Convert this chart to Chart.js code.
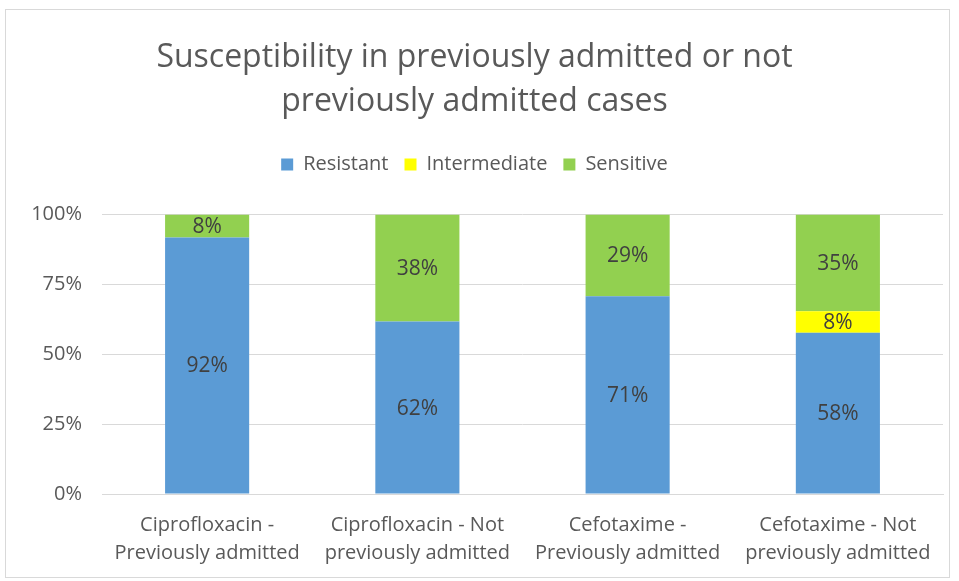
<!DOCTYPE html>
<html>
<head>
<meta charset="utf-8">
<script src="https://cdn.jsdelivr.net/npm/chart.js@4"></script>
<style>
  html, body { margin: 0; padding: 0; background: #fff; }
  #box { position: absolute; left: 5px; top: 9px; width: 943px; height: 567px; border: 1px solid #d9d9d9; }
</style>
</head>
<body>
<div id="box"><canvas id="chart" width="943" height="567"></canvas></div>
<script>
var categories = [
    ["Ciprofloxacin -", "Previously admitted"],
    ["Ciprofloxacin - Not", "previously admitted"],
    ["Cefotaxime -", "Previously admitted"],
    ["Cefotaxime - Not", "previously admitted"]
];
var resistant = [91.8, 61.7, 70.8, 57.7];
var intermediate = [0, 0, 0, 7.7];
var sensitive = [8.2, 38.3, 29.2, 34.6];
var yTicks = [0, 25, 50, 75, 100];

var textColor = '#595959';
var fontFamily = "'Open Sans', 'Noto Sans', sans-serif";

// draws the percentage in the middle of each segment
var segmentLabels = {
    id: 'segmentLabels',
    afterDatasetsDraw: function(chart) {
        var ctx = chart.ctx;
        ctx.save();
        ctx.font = '21px ' + fontFamily;
        ctx.fillStyle = '#404040';
        ctx.textAlign = 'center';
        ctx.textBaseline = 'middle';
        chart.data.datasets.forEach(function(dataset, i) {
            var meta = chart.getDatasetMeta(i);
            meta.data.forEach(function(bar, j) {
                var v = dataset.data[j];
                if (!v) return;
                var mid = (bar.y + bar.base) / 2;
                ctx.fillText(Math.round(v) + '%', bar.x, mid + 1);
            });
        });
        ctx.restore();
    }
};

var config = {
    type: 'bar',
    data: {
        labels: categories,
        datasets: [{
            label: 'Resistant',
            data: resistant,
            backgroundColor: '#5B9BD5',
            xAxisID: 'x'
        }, {
            label: 'Intermediate',
            data: intermediate,
            backgroundColor: '#FFFF00',
            xAxisID: 'x'
        }, {
            label: 'Sensitive',
            data: sensitive,
            backgroundColor: '#92D050',
            xAxisID: 'x'
        }]
    },
    options: {
        responsive: false,
        animation: false,
        layout: { padding: { left: 0, right: 6, top: 25, bottom: 0 } },
        datasets: { bar: { categoryPercentage: 1, barPercentage: 0.4 } },
        plugins: {
            title: {
                display: true,
                text: ['Susceptibility in previously admitted or not', 'previously admitted cases'],
                color: textColor,
                font: { family: fontFamily, size: 32, weight: 'normal', lineHeight: 1.4 },
                padding: { top: 0, bottom: 14 }
            },
            legend: {
                position: 'top',
                labels: {
                    color: textColor,
                    font: { family: fontFamily, size: 20 },
                    boxWidth: 12,
                    boxHeight: 12,
                    padding: 16
                }
            },
            tooltip: { enabled: false }
        },
        scales: {
            x: {
                stacked: true,
                grid: { display: false, drawTicks: false },
                border: { display: true, color: '#d9d9d9' },
                ticks: { color: textColor, font: { family: fontFamily, size: 20, lineHeight: 1.4 }, maxRotation: 0, padding: 17 },
                afterFit: function(axis) { axis.height = 83; }
            },
            // empty top axis, only used as a gap between legend and bars
            gap: {
                type: 'category',
                position: 'top',
                grid: { display: false, drawTicks: false },
                border: { display: false },
                ticks: { display: false },
                afterFit: function(axis) { axis.height = 30; }
            },
            y: {
                stacked: true,
                min: 0,
                max: 100,
                afterBuildTicks: function(axis) {
                    axis.ticks = yTicks.map(function(v) { return { value: v }; });
                },
                afterFit: function(axis) { axis.width = 96; },
                grid: { color: '#d9d9d9', drawTicks: false },
                border: { display: false },
                ticks: {
                    color: textColor,
                    font: { family: fontFamily, size: 20 },
                    padding: 20,
                    callback: function(v) { return v + '%'; }
                }
            }
        }
    },
    plugins: [segmentLabels]
};

window.myBar = new Chart(document.getElementById('chart'), config);
</script>
</body>
</html>
